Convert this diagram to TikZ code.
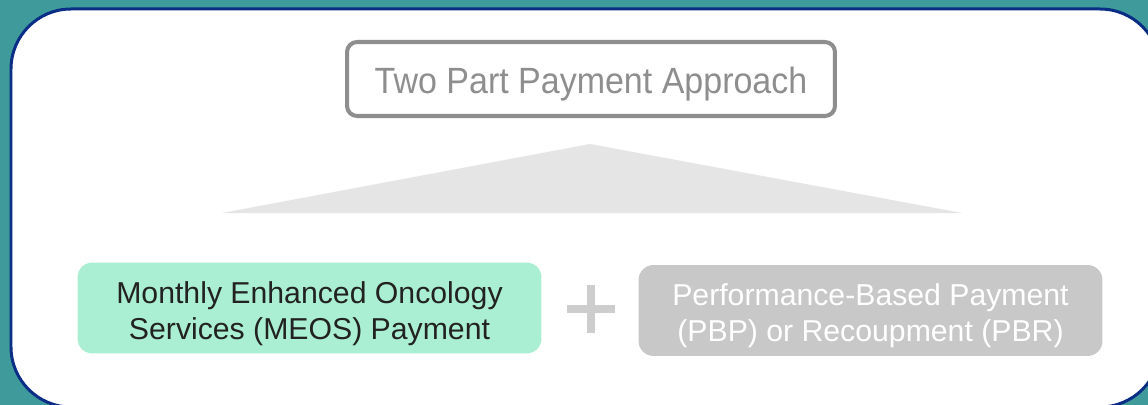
\documentclass[tikz,border=0pt]{standalone}
\usepackage{fontspec}
\setmainfont{Liberation Sans}
\newfontfamily\titlefont[FakeStretch=0.93]{Liberation Sans}
\usepackage{tikz}
\usetikzlibrary{positioning,calc}
\usepackage{xcolor}

\definecolor{tealbg}{HTML}{3F9B9B}
\definecolor{navyline}{HTML}{0A2D86}
\definecolor{titlegray}{HTML}{8E8E8E}
\definecolor{wedgegray}{HTML}{E5E5E5}
\definecolor{meosgreen}{HTML}{AAEFD3}
\definecolor{pbpgray}{HTML}{C8C8C8}
\definecolor{plusgray}{HTML}{CDCDCD}
\definecolor{darktext}{HTML}{222222}

% extra room above the first line pushes the two lines down a little
\newcommand{\lowstrut}{\rule{0pt}{18.5pt}}

\begin{document}
\begin{tikzpicture}[x=0.02cm,y=-0.02cm,
  titlebox/.style={draw=titlegray,line width=2.3pt,rounded corners=0.2cm,fill=white,
    minimum width=9.76cm,minimum height=1.48cm,text=titlegray,
    text height=0.68cm,text depth=0.1cm,font=\titlefont\fontsize{20.8}{22}\selectfont},
  partbox/.style={rounded corners=0.3cm,minimum width=9.28cm,minimum height=1.82cm,
    align=center,inner sep=0pt,font=\fontsize{17.2}{20.5}\selectfont}]
\useasboundingbox (0,0) rectangle (1148,405);
\fill[tealbg] (0,0) rectangle (1148,405);
\begin{scope}
\clip (0,0) rectangle (1148,405);
\draw[navyline,line width=0.06cm,fill=white,rounded corners=1.2cm] (11,9) rectangle (1160,407);
\end{scope}

\node[titlebox] (title) at (591,79) {Two Part Payment Approach};

% wedge under the title
\coordinate (apex) at (590,144);
\coordinate (wl) at (222,213);
\coordinate (wr) at (962,213);
\fill[wedgegray] (wl) -- (apex) -- (wr) -- cycle;

\node[partbox,fill=meosgreen,text=darktext] (meos) at (309.5,308)
  {\lowstrut Monthly Enhanced Oncology\\Services (MEOS) Payment};
\node[partbox,fill=pbpgray,text=white] (pbp) at (870.5,310.5)
  {\lowstrut Performance-Based Payment\\(PBP) or Recoupment (PBR)};

% plus sign between the two parts
\coordinate (plus) at (591,309);
\draw[plusgray,line width=0.17cm] ($(plus)+(-24,0)$) -- ($(plus)+(24,0)$);
\draw[plusgray,line width=0.17cm] ($(plus)+(0,-24)$) -- ($(plus)+(0,24)$);
\end{tikzpicture}
\end{document}
